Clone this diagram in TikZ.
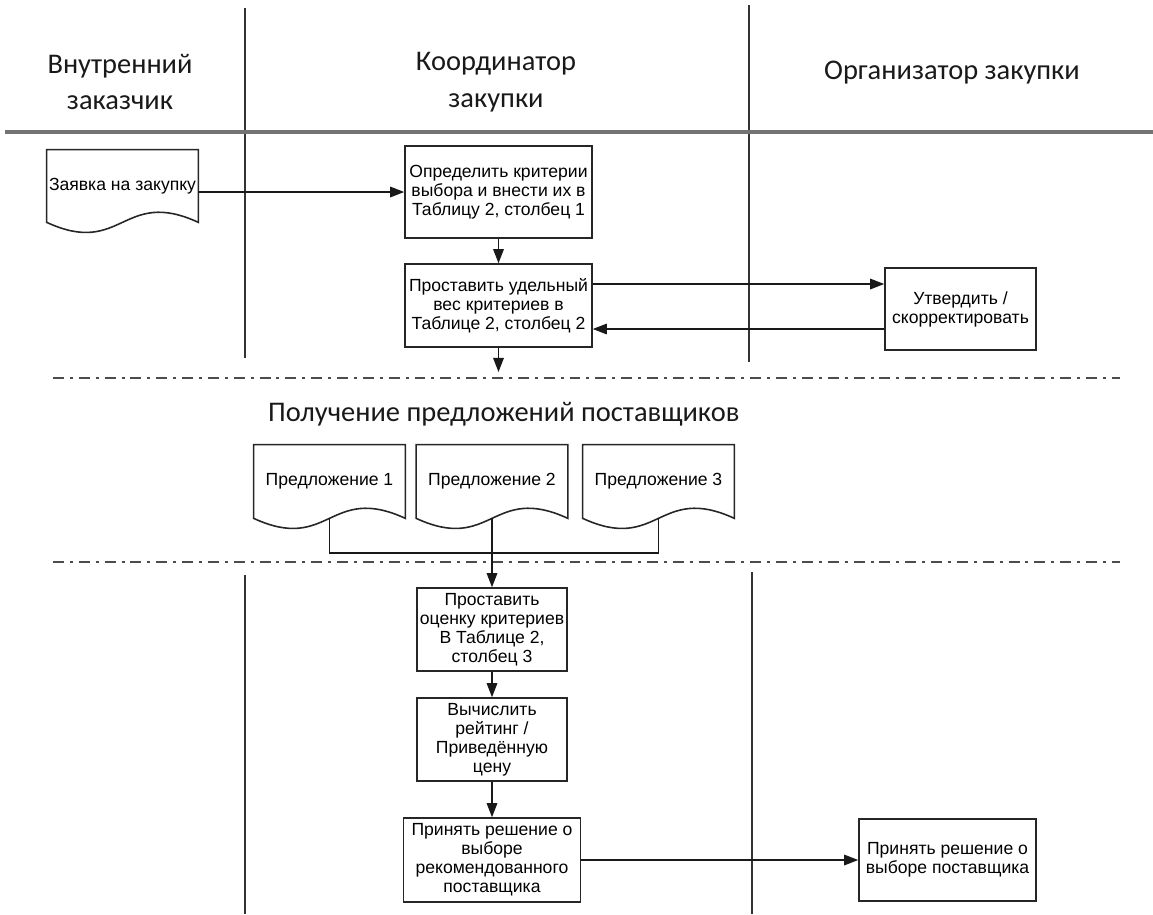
\documentclass[tikz,border=0pt]{standalone}
\usepackage{fontspec}
\setmainfont{Liberation Sans}
\newfontfamily\hdrfont{Carlito}
\usetikzlibrary{arrows.meta,calc}
\tikzset{
  box/.style={draw=black!85, line width=0.9pt, fill=white, align=center,
    font=\fontsize{10}{10.8}\selectfont, inner sep=1pt},
  docnode/.style={draw=none, align=center, font=\fontsize{10}{10.8}\selectfont, inner sep=1pt},
  docline/.style={draw=black!85, line width=0.9pt},
  arr/.style={-{Triangle[length=8pt,width=6pt]}, line width=0.8pt, draw=black!90},
  plainline/.style={line width=0.8pt, draw=black!90},
  lane/.style={line width=0.9pt, draw=black!80},
  hdr/.style={font=\hdrfont\fontsize{16.2}{21}\selectfont, align=center, text=black!90},
  sepdash/.style={line width=0.8pt, draw=black!70,
    dash pattern=on 6.2pt off 3.4pt on 1.7pt off 3.4pt}
}
\newcommand\docpath[1]{%
  \draw[docline] (#1.north west) -- (#1.north east) -- (#1.south east)
    .. controls ($(#1.south)+(0,-35)$) and ($(#1.south)+(0,35)$) .. (#1.south west) -- cycle;}
\begin{document}
\begin{tikzpicture}[x=0.02cm,y=-0.02cm]
\useasboundingbox (0,0) rectangle (1153,914);

% lanes (upper)
\draw[lane] (245,8) -- (245,358);
\draw[lane] (749,5) -- (749,362);
\draw[line width=2pt, draw=black!55] (5,132) -- (1153,132);
% lanes (lower)
\draw[lane] (245,575) -- (245,914);
\draw[lane] (752,572) -- (752,914);

% headers
\node[hdr] (h1) at (120,82) {Внутренний\\заказчик};
\node[hdr] (h2) at (496,82) {Координатор\\закупки};
\node[hdr] (h3) at (952,73) {Организатор закупки};

% separators
\draw[sepdash] (53,378) -- (1120,378);
\draw[sepdash] (53,562) -- (1120,562);
\node[hdr, anchor=west] (title) at (262,414) {Получение предложений поставщиков};

% document: request
\node[docnode, minimum width=3.02cm, minimum height=1.44cm] (d0) at (122.5,186) {Заявка на закупку};
\docpath{d0}

% boxes upper
\node[box, minimum width=3.74cm, minimum height=1.84cm] (b1) at (498.5,192)
  {Определить критерии\\выбора и внести их в\\Таблицу 2, столбец 1};
\node[box, minimum width=3.74cm, minimum height=1.66cm] (b2) at (498.5,305.5)
  {Проставить удельный\\вес критериев в\\Таблице 2, столбец 2};
\node[box, minimum width=3.02cm, minimum height=1.64cm] (b3) at (960.5,309)
  {Утвердить /\\скорректировать};

% proposal documents
\node[docnode, minimum width=3.02cm, minimum height=1.46cm] (d1) at (329.5,481.5) {Предложение 1};
\node[docnode, minimum width=3.02cm, minimum height=1.46cm] (d2) at (492,481.5) {Предложение 2};
\node[docnode, minimum width=3.02cm, minimum height=1.46cm] (d3) at (658.5,481.5) {Предложение 3};
\docpath{d1}
\docpath{d2}
\docpath{d3}

% boxes lower
\node[box, minimum width=3.0cm, minimum height=1.66cm] (b4) at (492,629.5)
  {Проставить\\оценку критериев\\В Таблице 2,\\столбец 3};
\node[box, minimum width=3.0cm, minimum height=1.66cm] (b5) at (492,739.5)
  {Вычислить\\рейтинг /\\Приведённую\\цену};
\node[box, minimum width=3.54cm, minimum height=1.68cm] (b6) at (492,860)
  {Принять решение о\\выборе\\рекомендованного\\поставщика};
\node[box, minimum width=3.54cm, minimum height=1.64cm] (b7) at (947.5,860)
  {Принять решение о\\выборе поставщика};

% helper coordinates
\coordinate (y192) at (0,192);
\coordinate (y284) at (0,284);
\coordinate (y329) at (0,329);
\coordinate (c2) at (498.5,372);
\coordinate (j1) at (329.5,553);
\coordinate (j3) at (658.5,553);

% connectors
\draw[arr] (d0.east |- y192) -- (b1.west |- y192);
\draw[arr] (b1.south) -- (b2.north);
\draw[arr] (b2.east |- y284) -- (b3.west |- y284);
\draw[arr] (b3.west |- y329) -- (b2.east |- y329);
\draw[arr] (b2.south) -- (c2);
\draw[plainline] (d1.south) -- (j1) -- (j3) -- (d3.south);
\draw[arr] (d2.south) -- (b4.north);
\draw[arr] (b4.south) -- (b5.north);
\draw[arr] (b5.south) -- (b6.north);
\draw[arr] (b6.east) -- (b7.west);
\end{tikzpicture}
\end{document}
